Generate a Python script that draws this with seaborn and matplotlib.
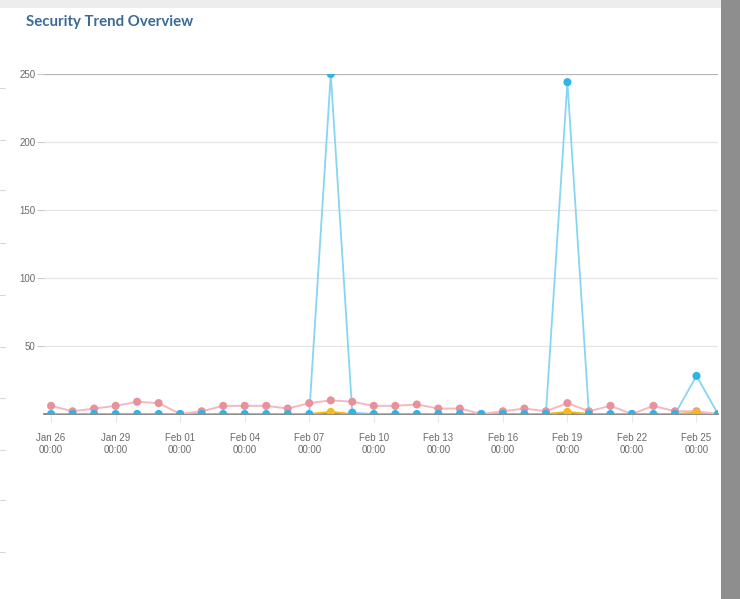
import matplotlib
matplotlib.use("Agg")
import matplotlib.pyplot as plt
import matplotlib.dates as mdates
import seaborn as sns
import pandas as pd
import numpy as np
from matplotlib.patches import Rectangle

dates = pd.date_range("2025-01-26", "2025-02-26", freq="D")
pink_vals = [6, 2, 4, 6, 9, 8, 0, 2, 6, 6, 6, 4, 8, 10, 9, 6,
             6, 7, 4, 4, 0, 2, 4, 2, 8, 2, 6, 0, 6, 2, 2, 0]
blue_vals = [0, 0, 0, 0, 0, 0, 0, 0, 0, 0, 0, 0, 0, 250, 1, 0,
             0, 0, 0, 0, 0, 0, 0, 0, 244, 0, 0, 0, 0, 0, 28, 0]
orange_vals = [0, 0, 0, 0, 0, 0, 0, 0, 0, 0, 0, 0, 0, 1.5, 0, 0,
               0, 0, 0, 0, 0, 0, 0, 0, 1.5, 0, 0, 0, 0, 0, 1, 0]
teal_vals = [0] * 32
tick_labels = ["Jan 26\n00:00", "Jan 29\n00:00", "Feb 01\n00:00", "Feb 04\n00:00",
               "Feb 07\n00:00", "Feb 10\n00:00", "Feb 13\n00:00", "Feb 16\n00:00",
               "Feb 19\n00:00", "Feb 22\n00:00", "Feb 25\n00:00"]
y_ticks = [50, 100, 150, 200, 250]

df = pd.DataFrame({"date": dates, "pink": pink_vals, "blue": blue_vals,
                   "orange": orange_vals, "teal": teal_vals})

sns.set_theme(style="white")
plt.rcParams["font.family"] = ["Liberation Sans", "DejaVu Sans"]

fig = plt.figure(figsize=(7.4, 5.99), dpi=100)
fig.patch.set_facecolor("white")
# page background pieces around the card
fig.patches.append(Rectangle((0, 1 - 8 / 599), 1, 8 / 599, transform=fig.transFigure,
                             facecolor="#ededed", edgecolor="none", zorder=0))
fig.patches.append(Rectangle((721 / 740, 0), 19 / 740, 1, transform=fig.transFigure,
                             facecolor="#8e8e8e", edgecolor="none", zorder=0))
for yy in [88, 140, 190, 243, 295, 347, 398, 450, 500, 552]:
    fig.lines.append(plt.Line2D([0, 5 / 740], [1 - yy / 599] * 2, transform=fig.transFigure,
                                color="#d8d8d8", lw=0.8))

ax = fig.add_axes([44 / 740, (599 - 414) / 599, (718 - 44) / 740, 340 / 599])
ax.set_facecolor("white")

# grid lines
for v in [50, 100, 150, 200]:
    ax.axhline(v, color="#e6e6e6", lw=1, zorder=0)
ax.axhline(250, color="#b5b5b5", lw=1.6, zorder=0)

sns.lineplot(data=df, x="date", y="pink", color="#f5b8c1", lw=1.4, ax=ax, zorder=3)
sns.scatterplot(data=df, x="date", y="pink", color="#e8909c", s=34, edgecolor="none", ax=ax, zorder=4)
sns.lineplot(data=df, x="date", y="blue", color="#86d5f3", lw=1.3, ax=ax, zorder=2)
sns.lineplot(data=df, x="date", y="teal", color="#3f9f9f", lw=1.4, ax=ax, zorder=2.5)
sns.lineplot(data=df, x="date", y="orange", color="#f2b419", lw=1.4, ax=ax, zorder=2.6)
orange_pts = df[df["orange"] > 0]
sns.scatterplot(data=orange_pts, x="date", y="orange", color="#f6bb16", s=34, edgecolor="none", ax=ax, zorder=4.5)
sns.scatterplot(data=df, x="date", y="blue", color="#2cb6e6", s=34, edgecolor="none", ax=ax, zorder=5)

ax.set_ylim(0, 250)
x0 = mdates.date2num(dates[0])
ax.set_xlim(x0 - 0.33, x0 + 31.0)
ax.set_yticks(y_ticks)
ax.set_yticklabels([str(v) for v in y_ticks])
ax.set_xticks(dates[::3])
ax.set_xticklabels(tick_labels)
ax.tick_params(axis="y", length=5, width=0.8, color="#cccccc", labelsize=7,
               labelcolor="#6a6a6a", pad=1, left=True)
ax.tick_params(axis="x", length=6, width=0.8, color="#e8e8e8", labelsize=7,
               labelcolor="#6a6a6a", pad=8, bottom=True)
ax.set_xlabel("")
ax.set_ylabel("")
for s in ["top", "right", "left"]:
    ax.spines[s].set_visible(False)
ax.spines["bottom"].set_color("#777777")
ax.spines["bottom"].set_linewidth(1.2)
ax.spines["bottom"].set_zorder(1)
ax.grid(False)
if ax.get_legend():
    ax.get_legend().remove()

fig.text(26 / 740, 1 - 22 / 599, "Security Trend Overview", fontsize=10.8, fontweight="bold",
         color="#3b6a96", family=["Lato", "DejaVu Sans"], va="center", ha="left")

fig.savefig("out.png", dpi=100)
